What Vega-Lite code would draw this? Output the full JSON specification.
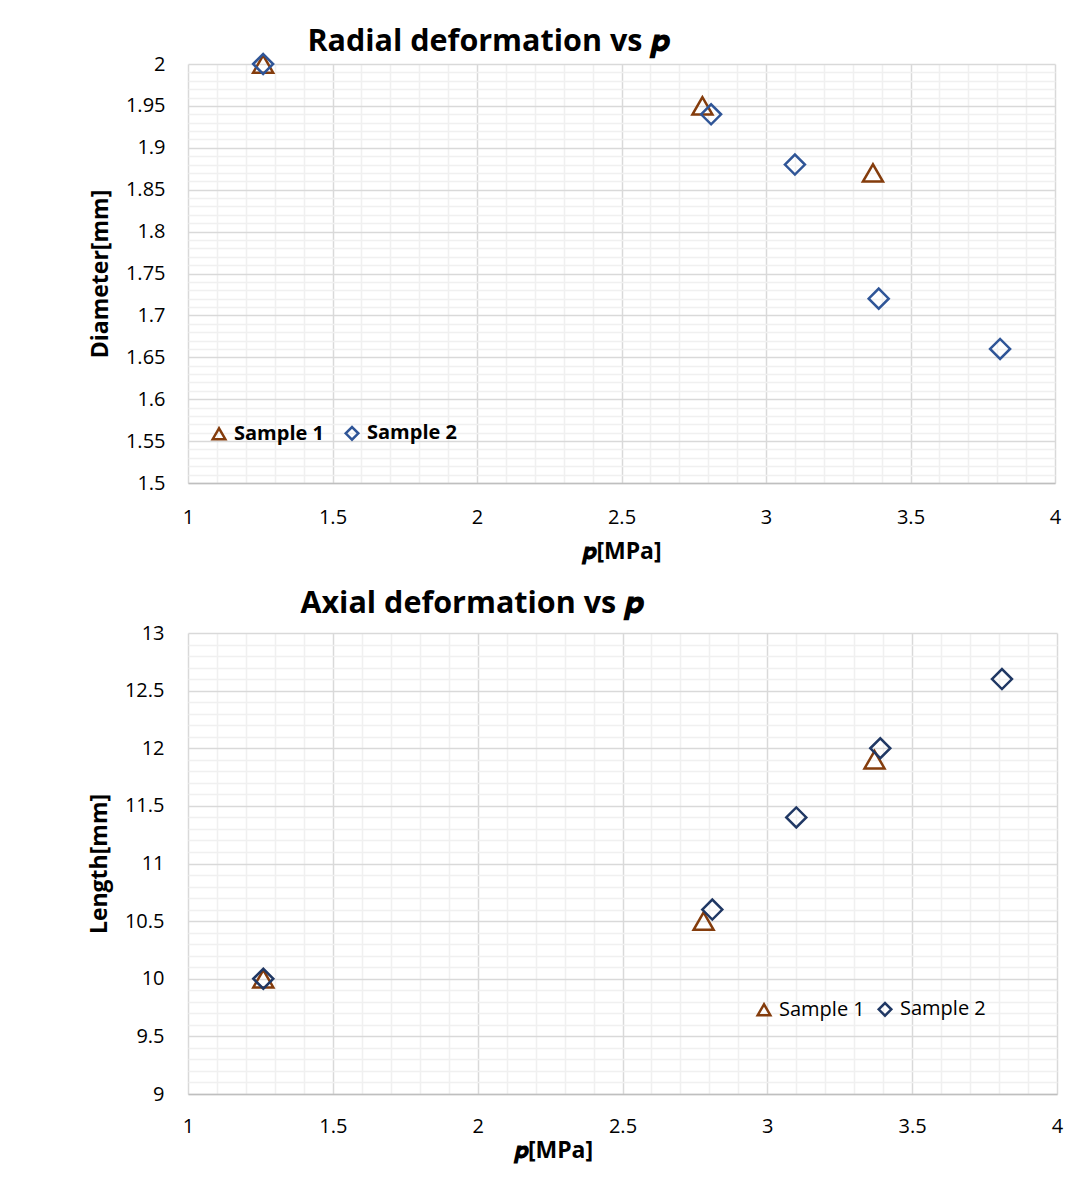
{
  "$schema": "https://vega.github.io/schema/vega-lite/v6.json",
  "background": "white",
  "padding": {"left": 88, "top": 26, "right": 10, "bottom": 10},
  "spacing": 25,
  "config": {
    "font": "Open Sans",
    "view": {"stroke": null},
    "axis": {
      "labelFont": "Open Sans",
      "labelFontSize": 20,
      "labelColor": "#000000",
      "titleFont": "Open Sans",
      "titleFontSize": 23,
      "titleFontWeight": "bold",
      "titleColor": "#000000",
      "ticks": false,
      "labelOverlap": false,
      "labelFlush": false
    },
    "title": {"font": "Open Sans", "fontSize": 30.5, "fontWeight": "bold", "color": "#000000", "anchor": "start", "offset": 4},
    "legend": {"padding": 0, "labelFont": "Open Sans", "labelFontSize": 20, "labelColor": "#000000", "symbolStrokeWidth": 2.5, "symbolSize": 160, "labelOffset": 5}
  },
  "datasets": {
    "radial": [
      {"series": "Sample 1", "p": 1.26, "diameter": 2.0},
      {"series": "Sample 1", "p": 2.78, "diameter": 1.95},
      {"series": "Sample 1", "p": 3.37, "diameter": 1.87},
      {"series": "Sample 2", "p": 1.26, "diameter": 2.0},
      {"series": "Sample 2", "p": 2.81, "diameter": 1.94},
      {"series": "Sample 2", "p": 3.10, "diameter": 1.88},
      {"series": "Sample 2", "p": 3.39, "diameter": 1.72},
      {"series": "Sample 2", "p": 3.81, "diameter": 1.66}
    ],
    "axial": [
      {"series": "Sample 1", "p": 1.26, "length": 10.0},
      {"series": "Sample 1", "p": 2.78, "length": 10.5},
      {"series": "Sample 1", "p": 3.37, "length": 11.9},
      {"series": "Sample 2", "p": 1.26, "length": 10.0},
      {"series": "Sample 2", "p": 2.81, "length": 10.6},
      {"series": "Sample 2", "p": 3.10, "length": 11.4},
      {"series": "Sample 2", "p": 3.39, "length": 12.0},
      {"series": "Sample 2", "p": 3.81, "length": 12.6}
    ]
  },
  "resolve": {
    "scale": {"x": "independent", "y": "independent", "stroke": "independent", "shape": "independent"},
    "legend": {"stroke": "independent", "shape": "independent"}
  },
  "vconcat": [
    {
      "title": {"text": "Radial deformation vs 𝒑", "dx": 218, "offset": -8},
      "width": 867,
      "height": 419,
      "data": {"name": "radial"},
      "mark": {"type": "point", "filled": false, "size": 400, "strokeWidth": 2.5, "opacity": 1},
      "encoding": {
        "x": {
          "field": "p", "type": "quantitative",
          "scale": {"domain": [1, 4], "nice": false, "zero": false},
          "axis": {
            "title": "𝒑[MPa]",
            "values": [1, 1.1, 1.2, 1.3, 1.4, 1.5, 1.6, 1.7, 1.8, 1.9, 2, 2.1, 2.2, 2.3, 2.4, 2.5, 2.6, 2.7, 2.8, 2.9, 3, 3.1, 3.2, 3.3, 3.4, 3.5, 3.6, 3.7, 3.8, 3.9, 4],
            "labelExpr": "abs(datum.value * 2 - round(datum.value * 2)) < 1e-6 ? format(datum.value, '.4~g') : ''",
            "gridColor": {"condition": {"test": "abs(datum.value * 2 - round(datum.value * 2)) < 1e-6", "value": "#D9D9D9"}, "value": "#F0F0F0"},
            "gridWidth": 1.5,
            "domainColor": "#BFBFBF",
            "domainWidth": 1.5,
            "labelPadding": 24,
            "titlePadding": 13
          }
        },
        "y": {
          "field": "diameter", "type": "quantitative",
          "scale": {"domain": [1.5, 2], "nice": false, "zero": false},
          "axis": {
            "title": "Diameter[mm]",
            "values": [1.5, 1.51, 1.52, 1.53, 1.54, 1.55, 1.56, 1.57, 1.58, 1.59, 1.6, 1.61, 1.62, 1.63, 1.64, 1.65, 1.66, 1.67, 1.68, 1.69, 1.7, 1.71, 1.72, 1.73, 1.74, 1.75, 1.76, 1.77, 1.78, 1.79, 1.8, 1.81, 1.82, 1.83, 1.84, 1.85, 1.86, 1.87, 1.88, 1.89, 1.9, 1.91, 1.92, 1.93, 1.94, 1.95, 1.96, 1.97, 1.98, 1.99, 2],
            "labelExpr": "abs(datum.value * 20 - round(datum.value * 20)) < 1e-6 ? format(datum.value, '.4~g') : ''",
            "gridColor": {"condition": {"test": "abs(datum.value * 20 - round(datum.value * 20)) < 1e-6", "value": "#D9D9D9"}, "value": "#F0F0F0"},
            "gridWidth": 1.5,
            "domain": false,
            "labelPadding": 23,
            "titlePadding": 13
          }
        },
        "stroke": {
          "field": "series", "type": "nominal",
          "scale": {"domain": ["Sample 1", "Sample 2"], "range": ["#843C0C", "#2F5597"]},
          "legend": {"title": null, "orient": "none", "direction": "horizontal", "legendX": 21, "legendY": 359, "labelFontWeight": "bold", "columnPadding": 16}
        },
        "shape": {
          "field": "series", "type": "nominal",
          "scale": {"domain": ["Sample 1", "Sample 2"], "range": ["triangle-up", "diamond"]},
          "legend": {"title": null, "orient": "none", "direction": "horizontal", "legendX": 21, "legendY": 359, "labelFontWeight": "bold", "columnPadding": 16}
        }
      }
    },
    {
      "title": {"text": "Axial deformation vs 𝒑", "dx": 212, "offset": 4},
      "width": 869,
      "height": 461,
      "data": {"name": "axial"},
      "mark": {"type": "point", "filled": false, "size": 400, "strokeWidth": 2.5, "opacity": 1},
      "encoding": {
        "x": {
          "field": "p", "type": "quantitative",
          "scale": {"domain": [1, 4], "nice": false, "zero": false},
          "axis": {
            "title": "𝒑[MPa]",
            "titleX": 365,
            "values": [1, 1.1, 1.2, 1.3, 1.4, 1.5, 1.6, 1.7, 1.8, 1.9, 2, 2.1, 2.2, 2.3, 2.4, 2.5, 2.6, 2.7, 2.8, 2.9, 3, 3.1, 3.2, 3.3, 3.4, 3.5, 3.6, 3.7, 3.8, 3.9, 4],
            "labelExpr": "abs(datum.value * 2 - round(datum.value * 2)) < 1e-6 ? format(datum.value, '.4~g') : ''",
            "gridColor": {"condition": {"test": "abs(datum.value * 2 - round(datum.value * 2)) < 1e-6", "value": "#D9D9D9"}, "value": "#F0F0F0"},
            "gridWidth": 1.5,
            "domainColor": "#BFBFBF",
            "domainWidth": 1.5,
            "labelPadding": 22,
            "titlePadding": 3
          }
        },
        "y": {
          "field": "length", "type": "quantitative",
          "scale": {"domain": [9, 13], "nice": false, "zero": false},
          "axis": {
            "title": "Length[mm]",
            "values": [9, 9.1, 9.2, 9.3, 9.4, 9.5, 9.6, 9.7, 9.8, 9.9, 10, 10.1, 10.2, 10.3, 10.4, 10.5, 10.6, 10.7, 10.8, 10.9, 11, 11.1, 11.2, 11.3, 11.4, 11.5, 11.6, 11.7, 11.8, 11.9, 12, 12.1, 12.2, 12.3, 12.4, 12.5, 12.6, 12.7, 12.8, 12.9, 13],
            "labelExpr": "abs(datum.value * 2 - round(datum.value * 2)) < 1e-6 ? format(datum.value, '.4~g') : ''",
            "gridColor": {"condition": {"test": "abs(datum.value * 2 - round(datum.value * 2)) < 1e-6", "value": "#D9D9D9"}, "value": "#F0F0F0"},
            "gridWidth": 1.5,
            "domain": false,
            "labelPadding": 24,
            "titlePadding": 13
          }
        },
        "stroke": {
          "field": "series", "type": "nominal",
          "scale": {"domain": ["Sample 1", "Sample 2"], "range": ["#843C0C", "#203864"]},
          "legend": {"title": null, "orient": "none", "direction": "horizontal", "legendX": 566, "legendY": 366, "labelFontWeight": "normal", "columnPadding": 8}
        },
        "shape": {
          "field": "series", "type": "nominal",
          "scale": {"domain": ["Sample 1", "Sample 2"], "range": ["triangle-up", "diamond"]},
          "legend": {"title": null, "orient": "none", "direction": "horizontal", "legendX": 566, "legendY": 366, "labelFontWeight": "normal", "columnPadding": 8}
        }
      }
    }
  ]
}
